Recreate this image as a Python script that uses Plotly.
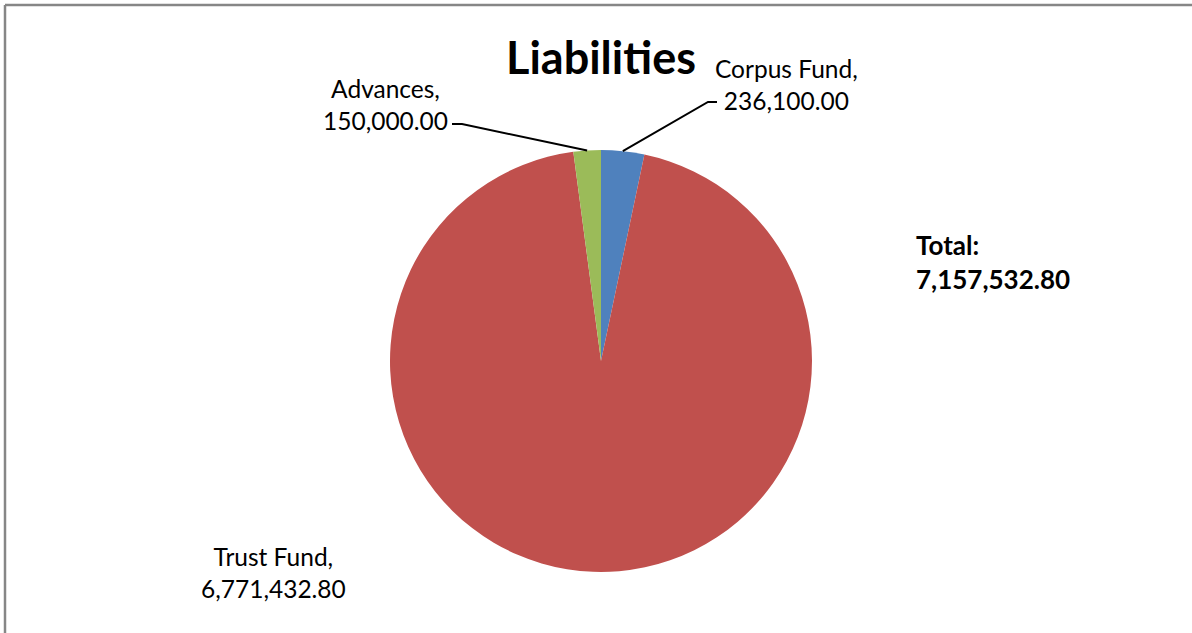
import math
import plotly.graph_objects as go

categories = ["Corpus Fund", "Trust Fund", "Advances"]
values = [236100.00, 6771432.80, 150000.00]
colors = ["#4F81BD", "#C0504D", "#9BBB59"]
title_text = "Liabilities"

W, H = 1192, 633
cx, cy, R = 601, 361, 211  # pie centre / radius in pixels

total = sum(values)

def px(x):
    return x / W

def py(y):
    return 1 - y / H

fig = go.Figure(go.Pie(
    labels=categories,
    values=values,
    sort=False,
    direction="clockwise",
    rotation=0,
    marker=dict(colors=colors, line=dict(width=0)),
    textinfo="none",
    hoverinfo="label+value",
    domain=dict(x=[px(cx - R), px(cx + R)], y=[py(cy + R), py(cy - R)]),
    showlegend=False,
))

# slice mid-angles (clockwise from 12 o'clock) for leader lines
mid = []
acc = 0
for v in values:
    a = (acc + v / 2) / total * 2 * math.pi
    mid.append(a)
    acc += v

def edge(i):
    a = mid[i]
    return cx + R * math.sin(a), cy - R * math.cos(a)

label_font = dict(family="Lato, Calibri, sans-serif", size=24.5, color="#000000")

def fmt(v):
    return f"{v:,.2f}"

# label positions (pixel) and elbow points
labels_pos = {
    0: dict(x=786, y=84, elbow=(708, 102), end=(717, 102)),
    2: dict(x=385, y=104, elbow=(462, 124), end=(452, 124)),
    1: dict(x=273, y=572, elbow=None, end=None),
}

shapes = []
annotations = []
for i, name in enumerate(categories):
    p = labels_pos[i]
    annotations.append(dict(
        x=px(p["x"]), y=py(p["y"]), xref="paper", yref="paper",
        text=f"{name},<br>{fmt(values[i])}", showarrow=False,
        xanchor="center", yanchor="middle", align="center",
        font=label_font,
    ))
    if p["elbow"]:
        ex, ey = edge(i)
        path = (f"M {px(ex)} {py(ey)} L {px(p['elbow'][0])} {py(p['elbow'][1])} "
                f"L {px(p['end'][0])} {py(p['end'][1])}")
        shapes.append(dict(type="path", xref="paper", yref="paper", path=path,
                           line=dict(color="#000000", width=2)))

annotations.append(dict(
    x=px(601), y=py(57), xref="paper", yref="paper", text=f"<b>{title_text}</b>",
    showarrow=False, xanchor="center", yanchor="middle",
    font=dict(family="Lato, Calibri, sans-serif", size=45, color="#000000"),
))
annotations.append(dict(
    x=px(914), y=py(262), xref="paper", yref="paper",
    text=f"<b>Total:<br>{fmt(total)}</b>", showarrow=False,
    xanchor="left", yanchor="middle", align="left",
    font=dict(family="Lato, Calibri, sans-serif", size=26, color="#000000"),
))

# chart-area border (top and left edges visible)
shapes.append(dict(type="line", xref="paper", yref="paper", x0=px(5), x1=1.0, y0=py(5), y1=py(5),
                   line=dict(color="#868686", width=2.5)))
shapes.append(dict(type="line", xref="paper", yref="paper", x0=px(5), x1=px(5), y0=py(5), y1=0,
                   line=dict(color="#868686", width=2.5)))

fig.update_layout(
    width=W, height=H,
    margin=dict(l=0, r=0, t=0, b=0),
    paper_bgcolor="#FFFFFF",
    plot_bgcolor="#FFFFFF",
    shapes=shapes,
    annotations=annotations,
)

fig.write_html(
    "out.html",
    config={"displayModeBar": False},
    post_script="document.body.style.margin='0';document.body.style.overflow='hidden';",
)
